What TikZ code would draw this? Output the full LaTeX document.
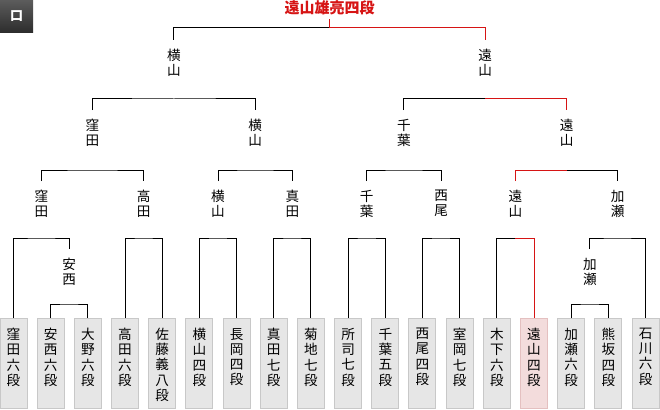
\documentclass[tikz,border=0pt]{standalone}
\usepackage{fontspec}
\setmainfont{Noto Sans CJK JP}
\usetikzlibrary{positioning}
\definecolor{tkRed}{RGB}{214,20,20}
\definecolor{tkBox}{RGB}{230,230,230}
\definecolor{tkEdge}{RGB}{200,200,200}
\definecolor{tkPink}{RGB}{243,220,220}
\definecolor{tkPinkEdge}{RGB}{228,192,192}
\definecolor{tkBadgeTop}{RGB}{92,92,92}
\definecolor{tkBadgeBot}{RGB}{44,44,44}
\tikzset{
  pbox/.style={draw=tkEdge, fill=tkBox, line width=1pt, minimum width=27pt,
    minimum height=90pt, inner sep=0pt, anchor=north},
  ptxt/.style={anchor=north, align=center, inner sep=0pt,
    font=\fontsize{13.6}{15.2}\selectfont},
  wlbl/.style={anchor=north, align=center, inner xsep=0pt, inner ysep=9pt,
    font=\fontsize{13.6}{15}\selectfont},
  tree/.style={line width=1pt, black},
  win/.style={line width=1pt, tkRed},
}

\begin{document}
\begin{tikzpicture}[x=1pt, y=-1pt]
\useasboundingbox (0,0) rectangle (660,409);
% block badge
\shade[top color=tkBadgeTop, bottom color=tkBadgeBot] (0,0) rectangle (33,33);
\node[font=\bfseries\fontsize{13}{13}\selectfont, text=white] (block) at (16.5,16.5) {口};
% winner
\node[font=\bfseries\fontsize{15}{15}\selectfont, text=tkRed, anchor=south,
  inner xsep=0pt, inner ysep=4pt] (champ) at (329.55,19) {遠山雄亮四段};
% players
\foreach \nm [count=\i from 0] in {{窪\\田\\六\\段},{安\\西\\六\\段},{大\\野\\六\\段},
    {高\\田\\六\\段},{佐\\藤\\義\\八\\段},{横\\山\\四\\段},{長\\岡\\四\\段},
    {真\\田\\七\\段},{菊\\地\\七\\段},{所\\司\\七\\段},{千\\葉\\五\\段},
    {西\\尾\\四\\段},{室\\岡\\七\\段},{木\\下\\六\\段},{遠\\山\\四\\段},
    {加\\瀬\\六\\段},{熊\\坂\\四\\段},{石\\川\\六\\段}}{
  \pgfmathsetmacro{\cx}{13.5+37.18*\i}
  \ifnum\i=14 \node[pbox, fill=tkPink, draw=tkPinkEdge] (p\i) at (\cx,318) {};
  \else \node[pbox] (p\i) at (\cx,318) {};
  \fi
  \node[ptxt] (t\i) at ([yshift=-10pt]p\i.north) {\nm};
}
% round 1
\coordinate (j1) at (69.27,304);
\coordinate (j15) at (589.79,304);
\node[wlbl] (anzai) at (69.27,249) {安\\西};
\node[wlbl] (kase0) at (589.79,249) {加\\瀬};
\draw[tree] (p1.north) |- (j1) -| (p2.north);
\draw[tree] (p15.north) |- (j15) -| (p16.north);
% round 2
\coordinate (k0) at (41.4,238);
\coordinate (k3) at (143.6,238);
\coordinate (k5) at (218,238);
\coordinate (k7) at (292.35,238);
\coordinate (k9) at (366.7,238);
\coordinate (k11) at (441.07,238);
\coordinate (k13) at (515.43,238);
\coordinate (k16) at (617.7,238);
\node[wlbl] (kubota1) at (41.4,181) {窪\\田};
\node[wlbl] (takada) at (143.6,181) {高\\田};
\node[wlbl] (yokoyama1) at (218,181) {横\\山};
\node[wlbl] (sanada) at (292.35,181) {真\\田};
\node[wlbl] (chiba1) at (366.7,181) {千\\葉};
\node[wlbl] (nishio) at (441.07,181) {西\\尾};
\node[wlbl] (toyama1) at (515.43,181) {遠\\山};
\node[wlbl] (kase1) at (617.7,181) {加\\瀬};
\draw[tree] (p0.north) |- (k0) -| (anzai.north);
\draw[tree] (p3.north) |- (k3) -| (p4.north);
\draw[tree] (p5.north) |- (k5) -| (p6.north);
\draw[tree] (p7.north) |- (k7) -| (p8.north);
\draw[tree] (p9.north) |- (k9) -| (p10.north);
\draw[tree] (p11.north) |- (k11) -| (p12.north);
\draw[tree] (p13.north) |- (k13);
\draw[win] (k13) -| (p14.north);
\draw[tree] (kase0.north) |- (k16) -| (p17.north);
% round 3
\coordinate (n1) at (92.5,170);
\coordinate (n2) at (255.2,170);
\coordinate (n3) at (403.9,170);
\coordinate (n4) at (566.6,170);
\node[wlbl] (kubota2) at (92.5,110) {窪\\田};
\node[wlbl] (yokoyama2) at (255.2,110) {横\\山};
\node[wlbl] (chiba2) at (403.9,110) {千\\葉};
\node[wlbl] (toyama2) at (566.6,110) {遠\\山};
\draw[tree] (kubota1.north) |- (n1) -| (takada.north);
\draw[tree] (yokoyama1.north) |- (n2) -| (sanada.north);
\draw[tree] (chiba1.north) |- (n3) -| (nishio.north);
\draw[tree] (n4) -| (kase1.north);
\draw[win] (toyama1.north) |- (n4);
% semifinal
\coordinate (o1) at (173.85,99);
\coordinate (o2) at (485.25,99);
\node[wlbl] (yokoyama3) at (173.85,40) {横\\山};
\node[wlbl] (toyama3) at (485.25,40) {遠\\山};
\draw[tree] (kubota2.north) |- (o1) -| (yokoyama2.north);
\draw[tree] (chiba2.north) |- (o2);
\draw[win] (o2) -| (toyama2.north);
% final
\coordinate (f) at (329.55,28);
\draw[tree] (yokoyama3.north) |- (f);
\draw[win] (f) -| (toyama3.north);
\draw[win] (f) -- (champ.south);
\end{tikzpicture}
\end{document}
